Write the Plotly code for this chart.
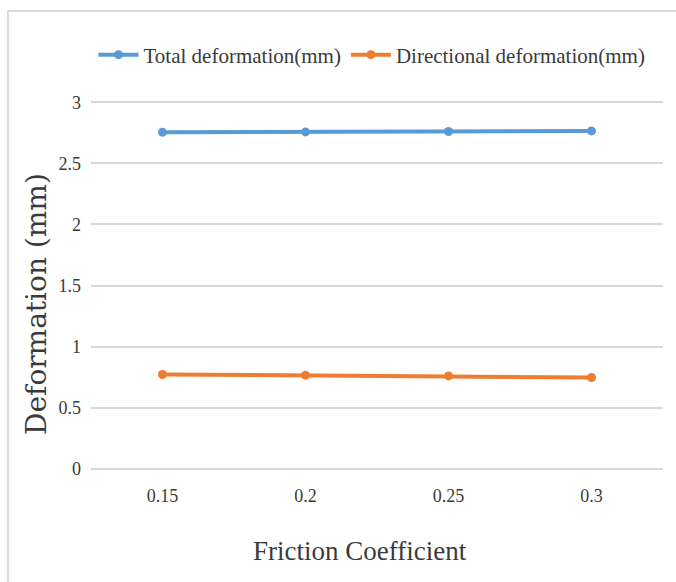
import plotly.graph_objects as go

categories = ["0.15", "0.2", "0.25", "0.3"]
total_def = [2.755, 2.757, 2.76, 2.765]
directional_def = [0.772, 0.766, 0.76, 0.747]
y_ticks = [0, 0.5, 1, 1.5, 2, 2.5, 3]
y_tick_labels = ["0", "0.5", "1", "1.5", "2", "2.5", "3"]

FONT = "Liberation Serif"
TXT = "#3a3a3a"

L, R, T, B = 91, 13, 101, 112
W, H = 676, 582
PW, PH = W - L - R, H - T - B

fig = go.Figure()
fig.add_trace(go.Scatter(
    x=categories, y=total_def, mode="lines+markers",
    name="Total deformation(mm)",
    line=dict(color="#5B9BD5", width=4),
    marker=dict(size=9, color="#5B9BD5"),
))
fig.add_trace(go.Scatter(
    x=categories, y=directional_def, mode="lines+markers",
    name="Directional deformation(mm)",
    line=dict(color="#ED7D31", width=4),
    marker=dict(size=9, color="#ED7D31"),
))

fig.update_layout(
    width=W, height=H,
    margin=dict(l=L, r=R, t=T, b=B, autoexpand=False),
    paper_bgcolor="white", plot_bgcolor="white",
    font=dict(family=FONT, color=TXT, size=15),
    showlegend=True,
    legend=dict(
        orientation="h", x=(372 - L) / PW, xanchor="center", y=1 + 46 / PH, yanchor="middle",
        font=dict(family=FONT, size=21, color=TXT),
        itemwidth=40, tracegroupgap=0,
    ),
    xaxis=dict(
        type="category", range=[-0.5, 3.5],
        showgrid=False, showline=False, zeroline=False, ticks="",
        tickfont=dict(family=FONT, size=18, color=TXT),
        ticklabelstandoff=13,
        automargin=False,
    ),
    yaxis=dict(
        range=[-0.01, 3.01], tickvals=y_ticks, ticktext=y_tick_labels,
        showgrid=True, gridcolor="#d9d9d9", gridwidth=1.5,
        zeroline=False, showline=False, ticks="",
        tickfont=dict(family=FONT, size=18, color=TXT),
        ticklabelstandoff=9,
        automargin=False,
    ),
    annotations=[
        dict(text="Friction Coefficient", xref="paper", yref="paper",
             x=(360 - L) / PW, y=-(551 - (H - B)) / PH, xanchor="center", yanchor="middle",
             showarrow=False, font=dict(family=FONT, size=27, color=TXT)),
        dict(text="Deformation (mm)", xref="paper", yref="paper", textangle=-90,
             x=(36 - L) / PW, y=((H - B) - 304) / PH, xanchor="center", yanchor="middle",
             showarrow=False, font=dict(family="DejaVu Serif", size=28, color=TXT)),
    ],
)

fig.add_shape(type="rect", xref="paper", yref="paper",
              x0=(8 - L) / PW, x1=1 + (R + 20) / PW, y0=-(B + 20) / PH, y1=1 + (T - 11) / PH,
              line=dict(color="#d0d0d0", width=1.5))

fig.write_html("out.html")
